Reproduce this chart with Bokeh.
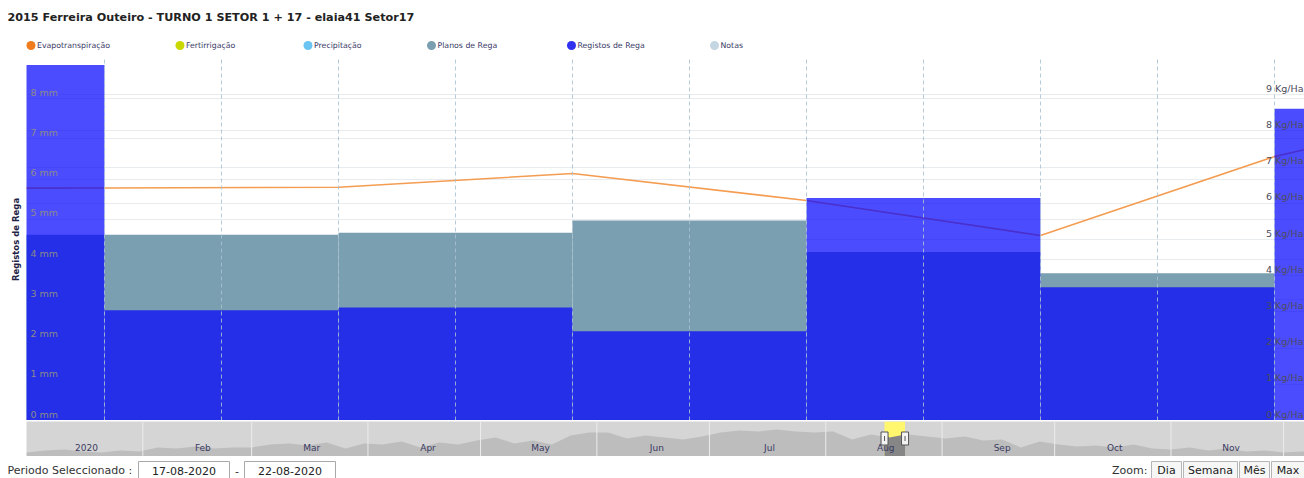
import numpy as np
import pandas as pd
from bokeh.plotting import figure
from bokeh.layouts import column
from bokeh.models import Range1d, LinearAxis, Grid, FixedTicker
from bokeh.core.properties import value
from bokeh.embed import file_html
from bokeh.resources import INLINE

# ---------------------------------------------------------------- data
title_text = "2015 Ferreira Outeiro - TURNO 1 SETOR 1 + 17 - elaia41 Setor17"

legend_labels = ["Evapotranspiração", "Fertirrigação", "Precipitação",
                 "Planos de Rega", "Registos de Rega", "Notas"]

# irrigation records per day (mm)
registos_days = ["2020-08-16", "2020-08-17", "2020-08-18", "2020-08-19",
                 "2020-08-20", "2020-08-21", "2020-08-22"]
registos_mm = [8.84, 2.74, 2.81, 2.22, 5.53, 3.31, 7.75]

# irrigation plans per day (mm)
planos_days = ["2020-08-16", "2020-08-17", "2020-08-18", "2020-08-19",
               "2020-08-20", "2020-08-21"]
planos_mm = [4.62, 4.62, 4.67, 4.97, 4.19, 3.66]

# daily evapotranspiration (mm)
evapo_days = ["2020-08-16", "2020-08-17", "2020-08-18", "2020-08-19",
              "2020-08-20", "2020-08-21", "2020-08-22", "2020-08-23"]
evapo_mm = [5.77, 5.78, 5.80, 6.14, 5.47, 4.60, 6.56, 7.92]

mm_ticks = [0, 1, 2, 3, 4, 5, 6, 7, 8]
kg_ticks = [0, 1, 2, 3, 4, 5, 6, 7, 8, 9]

period_from = "17-08-2020"
period_to = "22-08-2020"
zoom_buttons = ["Dia", "Semana", "Mês", "Max"]

# overview series for the navigator, one reading every five days from 1 Jan 2020
nav_start_date = "2020-01-01"
nav_values = [4, 6, 7, 5, 4, 6, 5, 9, 8, 10, 8, 9, 9, 12, 13, 11, 14, 8, 13, 12,
              15, 9, 14, 12, 16, 19, 13, 16, 12, 21, 24, 24, 18, 21, 19, 17, 20, 24,
              26, 25, 27, 25, 24, 25, 17, 22, 19, 22, 20, 18, 20, 16, 17, 9, 15, 12,
              10, 11, 9, 12, 8, 7, 9, 6, 8, 5, 6, 4, 5, 4]
nav_month_starts = ["2020-01-01", "2020-02-01", "2020-03-01", "2020-04-01",
                    "2020-05-01", "2020-06-01", "2020-07-01", "2020-08-01",
                    "2020-09-01", "2020-10-01", "2020-11-01", "2020-12-01"]
nav_month_labels = ["2020", "Feb", "Mar", "Apr", "May", "Jun", "Jul", "Aug",
                    "Sep", "Oct", "Nov"]

# ---------------------------------------------------------------- styling
W = 1304
FONT = value("DejaVu Sans")
C_EVAPO = "#f49d52"
C_PLANOS = "#7a9fb0"
C_REGISTOS = "#0000ff"
legend_colors = ["#f07c1e", "#c8d800", "#6cc4f2", "#7a9fb0", "#3030f0", "#c4d6e2"]
legend_x = [30.5, 179.5, 307.5, 431, 571, 714]

view_start = pd.Timestamp("2020-08-16 16:00")
view_end = pd.Timestamp("2020-08-22 03:05")
nav_end = pd.Timestamp("2020-12-06 14:00")


def ms(ts):
    return pd.Timestamp(ts).value / 1e6


def ms_arr(vals):
    return (pd.to_datetime(vals).asi8 / 1e6).tolist()


DAY = 86400000.0


def bare(fig):
    fig.grid.visible = False
    fig.outline_line_color = None
    fig.border_fill_color = "white"
    fig.frame_align = False
    return fig


# ---------------------------------------------------------------- header
head = bare(figure(width=W, height=58, x_range=Range1d(0, W), y_range=Range1d(58, 0),
                   min_border=0, toolbar_location=None, output_backend="svg",
                   x_axis_location=None, y_axis_location=None))
head.text(x=[7], y=[17], text=[title_text], text_font=FONT,
          text_font_style="bold", text_font_size="11.2px", text_color="#222222",
          text_baseline="middle")
head.scatter(x=legend_x, y=[45] * len(legend_x), size=9, fill_color=legend_colors,
             line_color=None)
head.text(x=[v + 6 for v in legend_x], y=[45] * len(legend_x), text=legend_labels,
          text_font=FONT, text_font_size="7.8px", text_color="#3a3a66",
          text_baseline="middle")

# ---------------------------------------------------------------- main chart
p = bare(figure(width=W, height=362, x_axis_type="datetime",
                x_range=Range1d(ms(view_start), ms(view_end)), y_range=Range1d(0, 9),
                min_border_left=26, min_border_right=0, min_border_top=0,
                min_border_bottom=0, toolbar_location=None, output_backend="svg",
                x_axis_location=None, y_axis_location=None))
p.extra_y_ranges = {"kg": Range1d(0, 10)}

p.add_layout(Grid(dimension=1, ticker=FixedTicker(ticks=list(range(0, 10))),
                  grid_line_color="#e8ecef"))
p.add_layout(Grid(dimension=1, ticker=FixedTicker(ticks=list(range(0, 11))),
                  y_range_name="kg", grid_line_color="#e8ecef"))
half_days = (pd.date_range("2020-08-16", "2020-08-23", freq="12h").asi8 / 1e6).tolist()
p.add_layout(Grid(dimension=0, ticker=FixedTicker(ticks=half_days),
                  grid_line_color="#a9c1d1", grid_line_alpha=0.85,
                  grid_line_dash="4 3", level="overlay"))

yaxis = LinearAxis(axis_label="Registos de Rega", ticker=FixedTicker(ticks=[]),
                   major_label_text_font_size="0px", major_tick_out=0, major_tick_in=0,
                   minor_tick_out=0, minor_tick_in=0, major_label_standoff=0,
                   axis_line_color=None, axis_label_standoff=6,
                   axis_label_text_font_size="8.5px", axis_label_text_font_style="bold",
                   axis_label_text_font="DejaVu Sans", axis_label_text_color="#222244")
p.add_layout(yaxis, "left")

pl_left = ms_arr(planos_days)
p.quad(left=pl_left, right=[v + DAY for v in pl_left], bottom=0, top=planos_mm,
       fill_color=C_PLANOS, line_color=None)

p.line(x=ms_arr(evapo_days), y=evapo_mm, line_color=C_EVAPO, line_width=1.6)

rg_left = ms_arr(registos_days)
p.quad(left=rg_left, right=[v + DAY for v in rg_left], bottom=0, top=registos_mm,
       fill_color=C_REGISTOS, fill_alpha=0.7, line_color=None)

p.text(x=[ms(view_start)] * len(mm_ticks), y=mm_ticks,
       text=[f"{t} mm" for t in mm_ticks], x_offset=4, y_offset=-1,
       text_baseline="bottom", text_font=FONT, text_font_size="9.5px",
       text_color="#8a8a8a")
p.text(x=[ms(view_end)] * len(kg_ticks), y=kg_ticks,
       text=[f"{t} Kg/Ha" for t in kg_ticks], x_offset=-1, y_offset=-1,
       text_align="right", text_baseline="bottom", y_range_name="kg",
       text_font=FONT, text_font_size="9.5px", text_color="#4c4c5c")

# ---------------------------------------------------------------- navigator
nav = bare(figure(width=W, height=36, x_axis_type="datetime",
                  x_range=Range1d(ms(nav_start_date), ms(nav_end)), y_range=Range1d(0, 35),
                  min_border_left=26, min_border_right=0, min_border_top=1,
                  min_border_bottom=0, toolbar_location=None, output_backend="svg",
                  x_axis_location=None, y_axis_location=None,
                  background_fill_color="#d5d5d5"))
nav_x = (pd.date_range(nav_start_date, periods=len(nav_values), freq="5D").asi8 / 1e6)
nav.varea(x=nav_x.tolist(), y1=0, y2=nav_values, fill_color="#bdbdbd")

# selected window
nav.quad(left=[ms(view_start)], right=[ms(view_end)], bottom=[0], top=[35],
         fill_color="#fff86e", line_color=None)
win_x = np.clip(nav_x, ms(view_start), ms(view_end))
nav.varea(x=win_x.tolist(), y1=0, y2=nav_values, fill_color="#868686")

ms_month = ms_arr(nav_month_starts)
nav.segment(x0=ms_month[1:], x1=ms_month[1:], y0=0, y1=35, line_color="#ececec",
            line_width=1)
nav.text(x=[v + 16 * DAY for v in ms_month[:len(nav_month_labels)]],
         y=[9] * len(nav_month_labels), text=nav_month_labels,
         text_align="center", text_baseline="middle", text_font=FONT,
         text_font_size="9px", text_color="#3a3a62")
nav.rect(x=[ms(view_start), ms(view_end)], y=[18, 18], width=7, height=13,
         width_units="screen", height_units="screen", fill_color="#f4f4f4",
         line_color="#555555", line_width=1)
nav.segment(x0=[ms(view_start), ms(view_end)], x1=[ms(view_start), ms(view_end)],
            y0=[15.5, 15.5], y1=[20.5, 20.5], line_color="#555555", line_width=1)

# ---------------------------------------------------------------- footer
foot = bare(figure(width=W, height=22, x_range=Range1d(0, W), y_range=Range1d(22, 0),
                   min_border=0, toolbar_location=None, output_backend="svg",
                   x_axis_location=None, y_axis_location=None))
foot.text(x=[7], y=[14], text=["Periodo Seleccionado :"], text_font=FONT,
          text_font_size="11px", text_color="#333333", text_baseline="middle")
foot.quad(left=[138, 244], right=[229, 335], top=[5, 5], bottom=[24, 24],
          fill_color="white", line_color="#a8a8a8")
foot.text(x=[183.5, 289.5], y=[14, 14], text=[period_from, period_to], text_font=FONT,
          text_font_size="11px", text_color="#222222", text_align="center",
          text_baseline="middle")
foot.text(x=[236.5], y=[14], text=["-"], text_font=FONT, text_font_size="11px",
          text_color="#333333", text_align="center", text_baseline="middle")
foot.text(x=[1147], y=[14], text=["Zoom:"], text_font=FONT, text_font_size="11px",
          text_color="#333333", text_align="right", text_baseline="middle")
btn_left = [1151, 1183, 1239, 1271]
btn_right = [1181, 1237, 1269, 1306]
foot.quad(left=btn_left, right=btn_right, top=[5] * 4, bottom=[24] * 4,
          fill_color="#f6f6f6", line_color="#b5b5b5")
foot.text(x=[(a + b) / 2 for a, b in zip(btn_left, [1181, 1237, 1269, 1304])],
          y=[14] * 4, text=zoom_buttons, text_font=FONT, text_font_size="11px",
          text_color="#222222", text_align="center", text_baseline="middle")

layout = column(head, p, nav, foot, spacing=0)
open("out.html", "w").write(file_html(layout, INLINE))
